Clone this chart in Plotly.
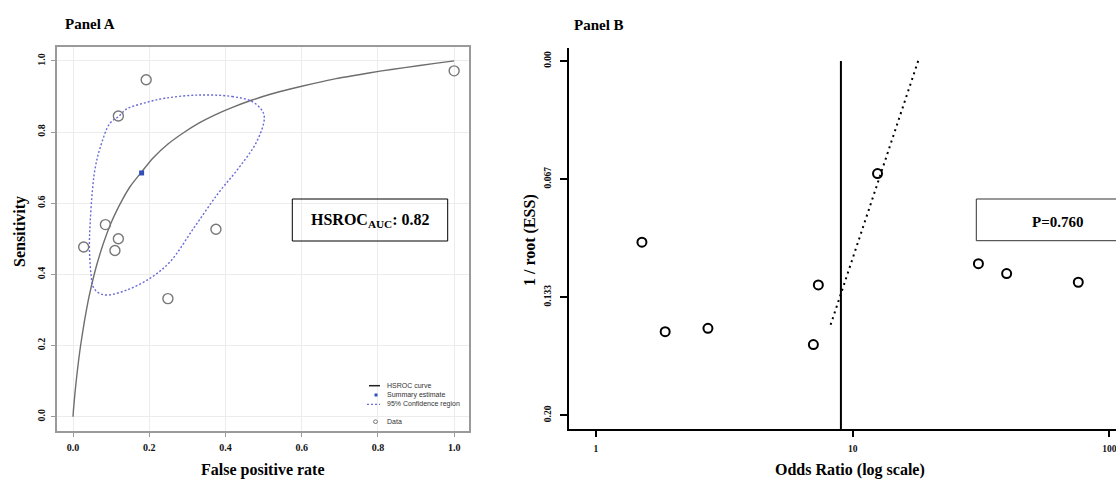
import plotly.graph_objects as go

# ---------------- Panel A data (HSROC) ----------------
fpr_data = [0.192, 0.119, 0.085, 0.119, 0.110, 0.028, 0.375, 0.249, 1.0]
sens_data = [0.947, 0.845, 0.540, 0.500, 0.467, 0.477, 0.527, 0.332, 0.972]

summary_fpr = [0.180]
summary_sens = [0.685]

curve_fpr = [0.0, 0.0005, 0.001, 0.002, 0.005, 0.01, 0.015, 0.02, 0.03, 0.04, 0.045,
             0.06, 0.08, 0.10, 0.115, 0.13, 0.15, 0.18, 0.21, 0.25, 0.29, 0.33, 0.37,
             0.42, 0.47, 0.52, 0.57, 0.63, 0.69, 0.75, 0.81, 0.87, 0.95, 1.0]
curve_sens = [0.0, 0.008, 0.016, 0.029, 0.065, 0.116, 0.161, 0.201, 0.269, 0.327, 0.352,
              0.418, 0.488, 0.545, 0.580, 0.611, 0.647, 0.688, 0.727, 0.767, 0.798, 0.825, 0.847,
              0.870, 0.890, 0.907, 0.921, 0.936, 0.950, 0.961, 0.972, 0.981, 0.993, 1.0]

conf_fpr = [0.329, 0.417, 0.469, 0.495, 0.502, 0.482, 0.434, 0.381, 0.318, 0.255,
            0.202, 0.141, 0.088, 0.066, 0.053, 0.047, 0.043, 0.045, 0.051, 0.058,
            0.071, 0.097, 0.119, 0.141, 0.185, 0.241, 0.329]
conf_sens = [0.904, 0.900, 0.886, 0.862, 0.839, 0.773, 0.698, 0.628, 0.532, 0.436,
             0.389, 0.356, 0.342, 0.349, 0.365, 0.403, 0.478, 0.544, 0.637, 0.698,
             0.755, 0.825, 0.843, 0.865, 0.881, 0.895, 0.904]

auc_text = "0.82"

# ---------------- Panel B data (Deeks funnel) ----------------
odds_ratio = [1.51, 1.86, 2.73, 7.03, 7.35, 12.5, 30.9, 39.8, 75.7]
inv_root_ess = [0.1023, 0.1528, 0.1509, 0.1601, 0.1264, 0.0636, 0.1144, 0.1200, 0.1249]

pooled_or = 9.0
reg_or = [18.0, 8.16]
reg_y = [0.0, 0.150]
p_value = "0.760"

b_yticks = [0.0, 0.0667, 0.1333, 0.20]
b_yticklabels = ["0.00", "0.067", "0.133", "0.20"]
b_xticks = [1, 10, 100]
b_xticklabels = ["1", "10", "100"]

SERIF = "Liberation Serif"
SANS = "Liberation Sans"
W, H = 1116, 479

fig = go.Figure()

# Panel A traces
fig.add_trace(go.Scatter(x=curve_fpr, y=curve_sens, mode="lines",
                         line=dict(color="#6e6e6e", width=1.4, shape="spline", smoothing=0.5),
                         xaxis="x", yaxis="y", showlegend=False, hoverinfo="skip"))
fig.add_trace(go.Scatter(x=conf_fpr, y=conf_sens, mode="lines",
                         line=dict(color="#6a6ad8", width=1.4, dash="2px,2px", shape="spline", smoothing=1.0),
                         xaxis="x", yaxis="y", showlegend=False, hoverinfo="skip"))
fig.add_trace(go.Scatter(x=fpr_data, y=sens_data, mode="markers",
                         marker=dict(symbol="circle-open", size=10, color="#777777", line=dict(width=1.4)),
                         xaxis="x", yaxis="y", showlegend=False))
fig.add_trace(go.Scatter(x=summary_fpr, y=summary_sens, mode="markers",
                         marker=dict(symbol="square", size=5, color="#3050b8"),
                         xaxis="x", yaxis="y", showlegend=False))

# Panel B traces
fig.add_trace(go.Scatter(x=[pooled_or, pooled_or], y=[0.0, 0.2079], mode="lines",
                         line=dict(color="black", width=2),
                         xaxis="x2", yaxis="y2", showlegend=False, hoverinfo="skip"))
fig.add_trace(go.Scatter(x=reg_or, y=reg_y, mode="lines",
                         line=dict(color="black", width=2, dash="2px,4px"),
                         xaxis="x2", yaxis="y2", showlegend=False, hoverinfo="skip"))
fig.add_trace(go.Scatter(x=odds_ratio, y=inv_root_ess, mode="markers",
                         marker=dict(symbol="circle-open", size=9, color="black", line=dict(width=2)),
                         xaxis="x2", yaxis="y2", showlegend=False))

def px(xp):
    return xp / W

def py(yp):
    return 1 - yp / H

tickfont_a = dict(family=SERIF, size=10, color="#111", weight="bold")
tickfont_b = dict(family=SERIF, size=9.5, color="#111", weight="bold")

fig.update_layout(
    width=W, height=H,
    margin=dict(l=0, r=0, t=0, b=0),
    paper_bgcolor="white", plot_bgcolor="white",
    font=dict(family=SERIF, color="black"),
    xaxis=dict(domain=[px(57), px(469)], range=[-0.042, 1.039],
               tickvals=[0, 0.2, 0.4, 0.6, 0.8, 1.0], ticktext=["0.0", "0.2", "0.4", "0.6", "0.8", "1.0"],
               showgrid=True, gridcolor="#ececec", gridwidth=1, zeroline=False,
               showline=True, linecolor="#9a9a9a", linewidth=1.5, mirror=True,
               ticks="outside", ticklen=4, tickcolor="#9a9a9a", tickfont=tickfont_a,
               ticklabelstandoff=2),
    yaxis=dict(domain=[py(431), py(47)], range=[-0.040, 1.039],
               tickvals=[0, 0.2, 0.4, 0.6, 0.8, 1.0], ticktext=["0.0", "0.2", "0.4", "0.6", "0.8", "1.0"],
               showgrid=True, gridcolor="#ececec", gridwidth=1, zeroline=False,
               showline=True, linecolor="#9a9a9a", linewidth=1.5, mirror=True,
               ticks="outside", ticklen=4, tickcolor="#9a9a9a", tickfont=tickfont_a,
               tickangle=-90, ticklabelstandoff=2),
    xaxis2=dict(domain=[px(569.3), 1.0], type="log", range=[-0.104, 2.026],
                tickvals=b_xticks, ticktext=b_xticklabels,
                showgrid=False, zeroline=False,
                showline=True, linecolor="black", linewidth=2,
                ticks="outside", ticklen=6, tickwidth=2, tickcolor="black",
                tickfont=tickfont_b, ticklabelstandoff=3, ticklabeloverflow="allow", anchor="y2"),
    yaxis2=dict(domain=[py(429.3), py(48)], range=[0.2079, -0.0073],
                tickvals=b_yticks, ticktext=b_yticklabels,
                showgrid=False, zeroline=False,
                showline=True, linecolor="black", linewidth=2,
                ticks="outside", ticklen=7, tickwidth=2, tickcolor="black",
                tickfont=tickfont_b, tickangle=-90, ticklabelstandoff=6, anchor="x2"),
)

ann = []
shapes = []

# Titles and axis titles
ann.append(dict(text="<b>Panel A</b>", x=px(63), y=py(23.5), xref="paper", yref="paper",
                xanchor="left", yanchor="middle", showarrow=False, font=dict(family=SERIF, size=15)))
ann.append(dict(text="<b>Panel B</b>", x=px(572), y=py(24.5), xref="paper", yref="paper",
                xanchor="left", yanchor="middle", showarrow=False, font=dict(family=SERIF, size=15)))
ann.append(dict(text="<b>False positive rate</b>", x=px(263), y=py(470), xref="paper", yref="paper",
                xanchor="center", yanchor="middle", showarrow=False, font=dict(family=SERIF, size=16)))
ann.append(dict(text="<b>Sensitivity</b>", x=px(20), y=py(232), xref="paper", yref="paper",
                xanchor="center", yanchor="middle", textangle=-90, showarrow=False,
                font=dict(family=SERIF, size=16)))
ann.append(dict(text="<b>Odds Ratio (log scale)</b>", x=px(850), y=py(470), xref="paper", yref="paper",
                xanchor="center", yanchor="middle", showarrow=False, font=dict(family=SERIF, size=16)))
ann.append(dict(text="<b>1 / root (ESS)</b>", x=px(530), y=py(240), xref="paper", yref="paper",
                xanchor="center", yanchor="middle", textangle=-90, showarrow=False,
                font=dict(family=SERIF, size=16)))

# HSROC AUC box
ann.append(dict(text="<b>HSROC<sub>AUC</sub>: " + auc_text + "</b>", x=px(370), y=py(220),
                xref="paper", yref="paper", xanchor="center", yanchor="middle", showarrow=False,
                font=dict(family=SERIF, size=16)))
shapes.append(dict(type="rect", xref="paper", yref="paper", x0=px(292.3), x1=px(447.7),
                   y0=py(241), y1=py(199), line=dict(color="black", width=1)))

# P-value box
ann.append(dict(text="<b>P=" + p_value + "</b>", x=px(1057.7), y=py(222), xref="paper", yref="paper",
                xanchor="center", yanchor="middle", showarrow=False, font=dict(family=SERIF, size=15)))
shapes.append(dict(type="rect", xref="paper", yref="paper", x0=px(976.3), x1=px(1139),
                   y0=py(240.7), y1=py(199), line=dict(color="#333", width=1)))

# Legend for panel A
leg_font = dict(family=SANS, size=7, color="#333")
leg_items = [("HSROC curve", 385.7), ("Summary estimate", 395), ("95% Confidence region", 404.3), ("Data", 421.7)]
for txt, yy in leg_items:
    ann.append(dict(text=txt, x=px(385), y=py(yy), xref="paper", yref="paper",
                    xanchor="left", yanchor="middle", showarrow=False, font=leg_font))
shapes.append(dict(type="line", xref="paper", yref="paper", x0=px(369), x1=px(380),
                   y0=py(385.7), y1=py(385.7), line=dict(color="#222", width=1.5)))
shapes.append(dict(type="rect", xref="paper", yref="paper", x0=px(374.5), x1=px(377.5),
                   y0=py(396.5), y1=py(393.5), fillcolor="#3050b8", line=dict(width=0)))
shapes.append(dict(type="line", xref="paper", yref="paper", x0=px(367), x1=px(380),
                   y0=py(404.3), y1=py(404.3), line=dict(color="#6a6ad8", width=1.2, dash="2px,2px")))
shapes.append(dict(type="circle", xref="paper", yref="paper", x0=px(373.5), x1=px(377.5),
                   y0=py(423.5), y1=py(419.9), line=dict(color="#777", width=1)))

fig.update_layout(annotations=ann, shapes=shapes)

fig.write_html("out.html")
